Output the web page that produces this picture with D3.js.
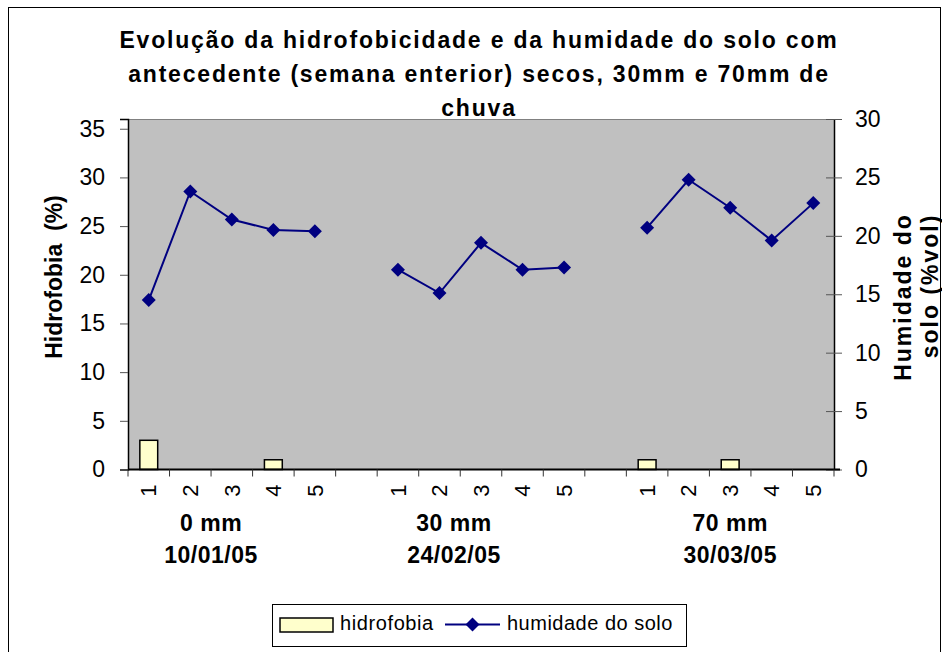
<!DOCTYPE html>
<html>
<head>
<meta charset="utf-8">
<script src="https://cdn.jsdelivr.net/npm/d3@7"></script>
<style>
  body { margin: 0; background: #fff; }
  text { font-family: "Liberation Sans", Arial, sans-serif; fill: #000; }
</style>
</head>
<body>
<div id="chart"></div>
<script>
const titleLines = [
  "Evolução da hidrofobicidade e da humidade do solo com",
  "antecedente (semana enterior) secos, 30mm e 70mm de",
  "chuva"
]
const categories = ["1","2","3","4","5","", "1","2","3","4","5","", "1","2","3","4","5"]
const groupLabels = [["0 mm", "10/01/05"], ["30 mm", "24/02/05"], ["70 mm", "30/03/05"]]
const groupCenters = [2.0, 7.85, 14.5]  // in category units
const hidrofobia = [3, 0, 0, 1, 0, null, 0, 0, 0, 0, 0, null, 1, 0, 1, 0, 0]
const humidade = [14.5, 23.8, 21.4, 20.5, 20.4, null, 17.1, 15.1, 19.4, 17.1, 17.3, null, 20.7, 24.8, 22.4, 19.6, 22.8]
const leftTicks = [0, 5, 10, 15, 20, 25, 30, 35]
const rightTicks = [0, 5, 10, 15, 20, 25, 30]

const W = 942, H = 652
const PLOT = {left: 128, right: 834, top: 119, bottom: 469.5}

const svg = d3.select("#chart").append("svg")
  .attr("width", W).attr("height", H)

// outer frame
svg.append("rect")
  .attr("x", 8.5).attr("y", 7.5).attr("width", 932).attr("height", 660)
  .attr("fill", "#fff").attr("stroke", "#000").attr("stroke-width", 1)

const idx = categories.map((_, i) => i)
const x = d3.scaleBand().domain(idx).range([PLOT.left, PLOT.right])
const xPos = d3.scaleLinear().domain([0, categories.length]).range([PLOT.left, PLOT.right])
const yL = d3.scaleLinear().domain([0, 36]).range([PLOT.bottom, PLOT.top])
const yR = d3.scaleLinear().domain([0, 30]).range([PLOT.bottom, PLOT.top])

// plot background
svg.append("rect")
  .attr("x", PLOT.left).attr("y", PLOT.top)
  .attr("width", PLOT.right - PLOT.left).attr("height", PLOT.bottom - PLOT.top)
  .attr("fill", "#c0c0c0")
svg.append("line")
  .attr("x1", PLOT.left).attr("x2", PLOT.right)
  .attr("y1", PLOT.top + 0.5).attr("y2", PLOT.top + 0.5)
  .attr("stroke", "#808080")

// title
svg.append("g").selectAll("text")
  .data(titleLines)
  .enter().append("text")
    .attr("x", 479)
    .attr("y", (d, i) => 48 + i * 34)
    .attr("text-anchor", "middle")
    .style("font-size", "23px")
    .style("font-weight", "bold")
    .style("letter-spacing", "1.8px")
    .text(d => d)

// bars
svg.append("g").selectAll("rect")
  .data(hidrofobia.map((v, i) => ({v, i})).filter(d => d.v))
  .enter().append("rect")
    .attr("x", d => x(d.i) + x.bandwidth() * 0.285)
    .attr("width", x.bandwidth() * 0.43)
    .attr("y", d => yL(d.v))
    .attr("height", d => yL(0) - yL(d.v))
    .attr("fill", "#ffffcc")
    .attr("stroke", "#000")
    .attr("stroke-width", 1.5)

// left axis
const axL = svg.append("g")
  .attr("transform", "translate(" + PLOT.left + ",0)")
  .call(d3.axisLeft(yL).tickValues(leftTicks).tickSize(8).tickPadding(15))
axL.select(".domain").attr("stroke", "#000").attr("stroke-width", 1.5)
axL.selectAll(".tick line").attr("stroke", "#555")
axL.selectAll("text")
  .style("font-size", "23px")
  .attr("font-family", null)

// right axis
const axR = svg.append("g")
  .attr("transform", "translate(" + PLOT.right + ",0)")
  .call(d3.axisRight(yR).tickValues(rightTicks).tickSizeInner(8).tickSizeOuter(0).tickPadding(13))
axR.select(".domain").attr("stroke", "#000").attr("stroke-width", 1.5)
axR.selectAll(".tick line").attr("x1", -8).attr("stroke", "#555")
axR.selectAll("text")
  .style("font-size", "23px")
  .attr("font-family", null)

// bottom axis
const axB = svg.append("g")
  .attr("transform", "translate(0," + PLOT.bottom + ")")
axB.append("line")
  .attr("x1", PLOT.left).attr("x2", PLOT.right + 6)
  .attr("stroke", "#000").attr("stroke-width", 2)
axB.selectAll(".cat-tick")
  .data(d3.range(categories.length + 1))
  .enter().append("line")
    .attr("x1", d => xPos(d)).attr("x2", d => xPos(d))
    .attr("y1", 0).attr("y2", 7)
    .attr("stroke", "#333")
axB.selectAll(".cat-label")
  .data(categories)
  .enter().append("text")
    .attr("transform", (d, i) => "translate(" + (x(i) + x.bandwidth() / 2) + ",15) rotate(-90)")
    .attr("text-anchor", "end")
    .attr("dy", "0.35em")
    .style("font-size", "22px")
    .text(d => d)

// group labels
groupLabels.forEach((g, gi) => {
  g.forEach((t, li) => {
    svg.append("text")
      .attr("x", xPos(groupCenters[gi]))
      .attr("y", 531 + li * 32)
      .attr("text-anchor", "middle")
      .style("font-size", "23px")
      .style("font-weight", "bold")
      .style("letter-spacing", "0.5px")
      .text(t)
  })
})

// humidity line
const line = d3.line()
  .defined(d => d != null)
  .x((d, i) => x(i) + x.bandwidth() / 2)
  .y(d => yR(d))
svg.append("path")
  .datum(humidade)
  .attr("d", line)
  .attr("fill", "none")
  .attr("stroke", "#000080")
  .attr("stroke-width", 2)

const diamond = d3.symbol(d3.symbolSquare, 98)
svg.append("g").selectAll("path")
  .data(humidade.map((v, i) => ({v, i})).filter(d => d.v != null))
  .enter().append("path")
    .attr("d", diamond)
    .attr("transform", d => "translate(" + (x(d.i) + x.bandwidth() / 2) + "," + yR(d.v) + ") rotate(45)")
    .attr("fill", "#000080")

// axis titles
svg.append("text")
  .attr("transform", "translate(62,277) rotate(-90)")
  .attr("text-anchor", "middle")
  .style("font-size", "23px").style("font-weight", "bold")
  .style("white-space", "pre")
  .text("Hidrofobia  (%)")

const rightTitle = ["Humidade do", "solo (%vol)"]
svg.append("g").selectAll("text")
  .data(rightTitle)
  .enter().append("text")
    .attr("transform", (d, i) => "translate(" + (911 + i * 27) + "," + (297 - i * 11) + ") rotate(-90)")
    .attr("text-anchor", "middle")
    .style("font-size", "23px").style("font-weight", "bold")
    .style("letter-spacing", "2px")
    .text(d => d)

// legend
const lg = svg.append("g")
lg.append("rect")
  .attr("x", 272.5).attr("y", 604.5).attr("width", 414).attr("height", 42)
  .attr("fill", "#fff").attr("stroke", "#000")
lg.append("rect")
  .attr("x", 280).attr("y", 618).attr("width", 53).attr("height", 14)
  .attr("fill", "#ffffcc").attr("stroke", "#000").attr("stroke-width", 1.5)
lg.append("text")
  .attr("x", 340).attr("y", 630)
  .style("font-size", "20px").style("letter-spacing", "0.6px")
  .text("hidrofobia")
lg.append("line")
  .attr("x1", 445).attr("x2", 500).attr("y1", 624.5).attr("y2", 624.5)
  .attr("stroke", "#000080").attr("stroke-width", 2)
lg.append("path")
  .attr("d", diamond)
  .attr("transform", "translate(472.5,624.5) rotate(45)")
  .attr("fill", "#000080")
lg.append("text")
  .attr("x", 507).attr("y", 630)
  .style("font-size", "20px").style("letter-spacing", "0.5px")
  .text("humidade do solo")
</script>
</body>
</html>
